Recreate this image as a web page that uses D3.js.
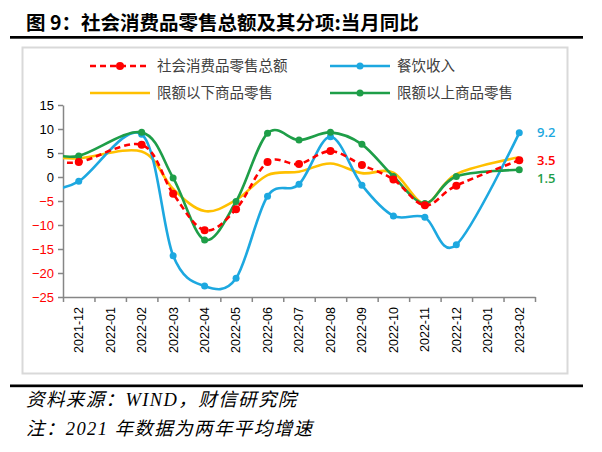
<!DOCTYPE html>
<html><head><meta charset="utf-8">
<script src="https://cdn.jsdelivr.net/npm/d3@7"></script>
<style>body{margin:0;background:#fff}</style>
</head><body>
<svg id="c" width="602" height="452"></svg>
<script>
// first month lies just left of the axis; it only shapes the curves entering the plot
const months = ["2021-11","2021-12","2022-01","2022-02","2022-03","2022-04","2022-05","2022-06","2022-07","2022-08","2022-09","2022-10","2022-11","2022-12","2023-01","2023-02"];
const axisMonths = months.slice(1);
const total      = [3.6, 3.1, null, 6.7, -3.5, -11.1, -6.7, 3.1, 2.7, 5.4, 2.5, -0.5, -5.9, -1.8, null, 3.5];
const catering   = [-2.6, -0.9, null, 8.9, -16.4, -22.7, -21.1, -4.0, -1.5, 8.4, -1.7, -8.1, -8.4, -14.1, null, 9.2];
const belowQuota = [4.4, 3.9, null, 5.3, -2.5, -7.1, -4.8, 0.4, 1.1, 2.8, 0.8, 0.9, -5.5, 0.6, null, 4.1];
const aboveQuota = [5.2, 4.4, null, 9.3, -0.2, -13.1, -5.1, 9.1, 7.7, 9.3, 6.8, 0.1, -5.5, 0.1, null, 1.5];
const yTicks = [-25,-20,-15,-10,-5,0,5,10,15];
const seriesNames = ["社会消费品零售总额","餐饮收入","限额以下商品零售","限额以上商品零售"];

const series = [
  {name: seriesNames[0], values: total, color: "#FF0000", dash: "6,4", marker: true, r: 4},
  {name: seriesNames[1], values: catering, color: "#1DA8E0", dash: null, marker: true, r: 3.5},
  {name: seriesNames[2], values: belowQuota, color: "#FFC000", dash: null, marker: false, r: 0},
  {name: seriesNames[3], values: aboveQuota, color: "#1E9E48", dash: null, marker: true, r: 3.5}
];

const svg = d3.select("#c");
const L = 63, R = 535, T = 105, B = 297;
const x = d3.scaleLinear().domain([-0.5, axisMonths.length - 0.5]).range([L, R]);
const xBand = d3.scaleBand().domain(axisMonths).range([L, R]);
const y = d3.scaleLinear().domain([-25, 15]).range([B, T]);
const idx = i => i - 1; // months index -> axis position

// title and rules
svg.append("text").attr("x", 26).attr("y", 30)
  .style("font-family", "'Noto Sans CJK SC'").style("font-weight", "700").style("font-size", "19.5px")
  .text("图 9：社会消费品零售总额及其分项:当月同比");
svg.append("rect").attr("x", 10).attr("y", 36).attr("width", 573).attr("height", 2.7).attr("fill", "#000");
svg.append("rect").attr("x", 22.5).attr("y", 47.5).attr("width", 545).attr("height", 326)
  .attr("fill", "none").attr("stroke", "#D9D9D9").attr("stroke-width", 2);
svg.append("rect").attr("x", 10).attr("y", 384.5).attr("width", 573).attr("height", 2.7).attr("fill", "#000");

// footer
const foot = svg.append("g").style("font-family", "'Liberation Serif','Noto Sans CJK SC'")
  .style("font-style", "italic").style("font-size", "18.5px").style("letter-spacing", "1.4px").attr("fill", "#000");
foot.append("text").attr("x", 26).attr("y", 406).text("资料来源：WIND，财信研究院");
foot.append("text").attr("x", 26).attr("y", 435).text("注：2021 年数据为两年平均增速");

// axes
const yAxis = svg.append("g").attr("transform", `translate(${L},0)`)
  .call(d3.axisLeft(y).tickValues(yTicks).tickSize(5).tickSizeOuter(0).tickPadding(4));
yAxis.selectAll("path,line").attr("stroke", "#868686").attr("stroke-width", 1.5);
yAxis.selectAll("text").style("font-family", "'Liberation Sans',Arial").style("font-size", "13px")
  .attr("fill", d => d < 0 ? "#FF0000" : "#000");

const xAxis = svg.append("g").attr("transform", `translate(0,${B})`)
  .call(d3.axisBottom(x).tickValues(d3.range(-0.5, axisMonths.length, 1)).tickSize(5).tickSizeOuter(0).tickFormat(""));
xAxis.selectAll("path,line").attr("stroke", "#868686").attr("stroke-width", 1.5);
const xLab = svg.append("g").attr("transform", `translate(0,${B})`)
  .call(d3.axisBottom(xBand).tickSize(0));
xLab.select("path").remove();
xLab.selectAll("text").attr("transform", "rotate(-90)").attr("x", -10).attr("y", 0).attr("dy", "0.35em")
  .style("text-anchor", "end").style("font-family", "'Liberation Sans',Arial").style("font-size", "12.5px").attr("fill", "#000");

// clip
svg.append("clipPath").attr("id", "plot").append("rect").attr("x", L).attr("y", 60).attr("width", R - L).attr("height", B - 60);

const line = d3.line().defined(d => d.v != null).x(d => x(d.i)).y(d => y(d.v)).curve(d3.curveCatmullRom.alpha(0));
const draw = [series[2], series[1], series[3], series[0]];
draw.forEach(s => {
  const pts = s.values.map((v, i) => ({i: idx(i), v})).filter(d => d.v != null);
  svg.append("path").datum(pts).attr("clip-path", "url(#plot)")
    .attr("d", line).attr("fill", "none").attr("stroke", s.color).attr("stroke-width", 2.6)
    .attr("stroke-dasharray", s.dash);
  if (s.marker) {
    svg.append("g").selectAll("circle").data(pts.filter(d => d.i >= 0)).join("circle")
      .attr("cx", d => x(d.i)).attr("cy", d => y(d.v)).attr("r", s.r).attr("fill", s.color);
  }
});

// end labels
const lastIdx = months.length - 1;
const lab = [{s: series[1], dy: 0}, {s: series[0], dy: 0}, {s: series[3], dy: 9}];
lab.forEach(o => {
  svg.append("text").attr("x", 537).attr("y", y(o.s.values[lastIdx]) + o.dy).attr("dy", "0.35em")
    .style("font-family", "'Open Sans',sans-serif").style("font-weight", "600").style("font-size", "13px")
    .attr("fill", o.s.color).text(o.s.values[lastIdx].toFixed(1));
});

// legend
const leg = [
  {s: series[0], x: 90, y: 66}, {s: series[1], x: 330, y: 66},
  {s: series[2], x: 90, y: 93}, {s: series[3], x: 330, y: 93}
];
leg.forEach(o => {
  const g = svg.append("g");
  g.append("line").attr("x1", o.x).attr("x2", o.x + 60).attr("y1", o.y).attr("y2", o.y)
    .attr("stroke", o.s.color).attr("stroke-width", 2.6).attr("stroke-dasharray", o.s.dash);
  if (o.s.marker) g.append("circle").attr("cx", o.x + 30).attr("cy", o.y).attr("r", o.s.r).attr("fill", o.s.color);
  g.append("text").attr("x", o.x + 67).attr("y", o.y).attr("dy", "0.35em")
    .style("font-family", "'Noto Sans CJK SC'").style("font-size", "14.5px").attr("fill", "#404040").text(o.s.name);
});
</script>
</body></html>
